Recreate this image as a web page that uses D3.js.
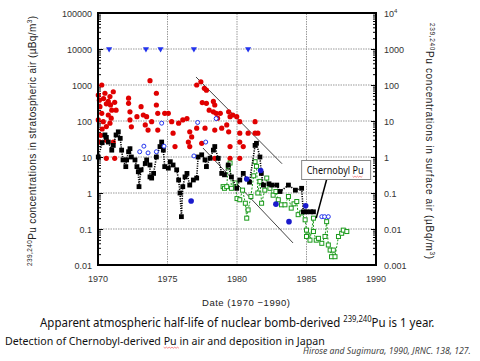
<!DOCTYPE html>
<html>
<head>
<meta charset="utf-8">
<title>Pu concentrations</title>
<script src="https://d3js.org/d3.v7.min.js"></script>
<style>
body { margin: 0; background: #fff; }
</style>
</head>
<body>
<script>
// stratospheric air (red dots)  [year, uBq/m3]
var strato = [
  [1970.27,1000],[1970.02,525],[1970.5,590],[1970.86,480],[1971.1,650],[1970.74,350],[1970.14,250],
  [1970.99,200],[1970.27,163],[1970.74,147],[1971.3,200],[1970.38,96],[1970.86,87],[1970.02,107],
  [1970.14,26],[1970.6,29],[1971.1,26],[1970.6,9.2],[1971.2,9.2],[1970.4,420],[1970.6,300],[1970.1,380],
  [1970.9,280],[1971.2,330],[1970.3,60],[1970.6,70],[1970.95,120],[1970.2,40],
  [1972.2,430],[1972.2,310],[1972.3,180],[1972.3,107],[1972.4,69],[1972.8,132],[1973.1,250],
  [1973.26,147],[1973.5,132],[1973.4,78],[1973.6,56],[1973.86,96],[1974.2,590],[1974.2,278],
  [1974.3,163],[1974.3,56],[1974.8,163],[1973.74,1320],
  [1977.1,1000],[1977.4,1230],[1977.65,810],[1977.8,720],[1977.5,325],[1977.8,310],[1978.3,350],
  [1978.4,278],[1978.3,180],[1978.5,163],[1978.8,163],[1979.4,180],[1979.5,132],[1979.7,147],
  [1979.98,132],[1975.06,163],[1975.3,96],[1975.8,87],[1976.1,107],[1976.4,117],[1975.4,46],
  [1976.6,50],[1976.5,26],[1976.74,36],[1977.1,63],[1977.7,63],[1978.4,56],[1978.9,63],
  [1979.26,78],[1979.4,50],[1979.5,19.5],[1975.54,19.5],[1976.6,19.5],[1977.46,24],[1978.4,9.2],
  [1979.5,9.2],[1978.0,200],[1978.6,120],
  [1980.2,96],[1980.8,46],[1981.3,46],[1981.5,46],[1981.3,96],[1980.2,46],[1980.2,26],
  [1980.2,9.2],[1980.45,19.5]
];

// surface air (black squares, dotted)
var surface = [
  [1970.02,10],[1970.3,25],[1970.5,41],[1970.6,35],[1970.74,26],[1970.99,15.5],[1971.1,21],
  [1971.3,41],[1971.46,50],[1971.6,33],[1971.7,15.5],[1971.8,8.3],[1972.0,5.4],[1972.06,8.3],
  [1972.2,14],[1972.3,17],[1972.4,10],[1972.66,8.3],[1972.8,5.4],[1972.9,3.9],[1972.95,1.5],
  [1973.1,4.4],[1973.4,6.6],[1973.5,8.3],[1973.74,6],[1973.74,2.8],[1973.86,2.6],[1974.0,3.5],
  [1974.2,10],[1974.46,19.5],[1974.58,26],[1974.7,15.5],[1974.8,5.4],[1975.06,4.9],[1975.2,7.4],
  [1975.4,6],[1975.66,4.4],[1975.8,2.3],[1975.9,1],[1976.0,0.22],[1976.1,1.5],[1976.26,2.8],
  [1976.4,3.5],[1976.6,1.66],[1976.86,2.3],[1977.1,2.6],[1977.2,10],[1977.46,11.5],[1977.7,8.3],
  [1977.8,5.4],[1978.06,9.2],[1978.3,15.5],[1978.4,19.5],[1978.65,9.2],[1978.9,3.5],[1979.1,3.2],
  [1979.37,6],[1979.6,2.8],[1979.98,1.35],[1980.2,2.3],[1980.45,3.5],[1980.9,2],[1981.3,21],
  [1981.4,24],[1981.65,10],[1981.75,3.5],[1981.9,1.66],[1982.3,1.8],[1982.5,1.66],[1982.86,1.66],
  [1983.1,1.1],[1983.7,1.66],[1984.2,1.2],[1984.65,1.35],[1984.77,0.3],[1985.0,0.3],[1985.3,0.3],
  [1985.5,0.3]
];

// Chernobyl-period surface samples (green open squares, dashed)
var green = [
  [1979.0,1.5],[1979.1,1.35],[1979.26,1.5],[1979.37,5.4],[1979.5,6.8],[1979.6,1.35],[1979.86,1.9],
  [1980.0,0.7],[1980.2,0.65],[1980.4,1.2],[1980.6,0.52],[1980.7,0.2],[1980.8,0.34],[1981.0,0.8],
  [1981.2,3],[1981.3,7.4],[1981.4,5.5],[1981.5,1],[1981.65,2.1],[1981.77,0.52],[1982.0,1.2],
  [1982.14,2.6],[1982.37,1.35],[1982.6,0.87],[1982.8,1.1],[1982.97,0.65],[1983.2,0.47],
  [1983.45,0.47],[1983.7,0.8],[1983.9,0.38],[1984.1,0.5],[1984.3,0.58],[1984.4,0.25],
  [1984.65,0.28],[1984.9,0.18],[1985.0,0.093],[1985.1,0.068],[1985.0,0.062],[1985.25,0.049],
  [1985.5,0.2],[1985.5,0.085],[1985.7,0.049],[1985.86,0.055],[1986.1,0.04],[1986.33,0.062],
  [1986.45,0.16],[1986.57,0.036],[1986.7,0.026],[1986.8,0.017],[1986.93,0.026],[1987.05,0.017],
  [1987.3,0.062],[1987.53,0.076],[1987.65,0.093],[1987.9,0.085]
];

var blueOpen = [
  [1974.58,87],[1973.0,14],[1973.3,20],[1973.6,13],[1974.2,14],[1974.75,20],[1977.17,91],
  [1978.5,117],[1977.75,26],[1976.9,10.7],[1986.1,0.22],[1986.3,0.22],[1986.57,0.22]
];
var blueFilled = [[1980.7,2.45],[1981.7,4.2],[1982.8,0.49],[1983.74,0.16],[1984.94,0.44],[1976.7,0.6]];
var triangles = [[1970.8,10000],[1973.45,10000],[1974.5,10000],[1976.9,10000],[1980.8,10000]];

// half-life guide lines
var guide1 = [[1977.05,1670],[1983.24,6.5]];
var guide2 = [[1977.55,17.8],[1984.03,0.041]];

var xTicks = [1970,1975,1980,1985,1990];
var yLeftTicks = [0.01,0.1,1,10,100,1000,10000,100000];
var yRightTicks = [0.001,0.01,0.1,1,10,100,1000,10000];

var W = 480, H = 361;
var SANS = '"Liberation Sans", Arial, sans-serif';
var BODY = '"Noto Sans", sans-serif';
var svg = d3.select('body').append('svg').attr('width', W).attr('height', H)
  .attr('font-family', SANS);
svg.append('rect').attr('width', W).attr('height', H).attr('fill', '#fff');

var x = d3.scaleLinear().domain([1970,1990]).range([98,376]);
var y = d3.scaleLog().domain([0.01,100000]).range([265,13]);
var yR = d3.scaleLog().domain([0.001,10000]).range([265,13]);

// grid
var grid = svg.append('g').attr('stroke', '#999').attr('stroke-width', 1).attr('stroke-dasharray', '1.5,1');
grid.selectAll('.h').data(yLeftTicks.slice(1, -1)).enter().append('line')
  .attr('x1', x(1970)).attr('x2', x(1990)).attr('y1', d => y(d)).attr('y2', d => y(d));
grid.selectAll('.v').data(xTicks.slice(1, -1)).enter().append('line')
  .attr('y1', y(0.01)).attr('y2', y(100000)).attr('x1', d => x(d)).attr('x2', d => x(d));

// axes (inward ticks)
var fmtL = d => d >= 1 ? d3.format('d')(d) : String(d);
svg.append('g').attr('transform', 'translate(' + x(1970) + ',0)')
  .call(d3.axisLeft(y).tickValues(y.ticks()).tickFormat(''))
  .call(g => g.select('.domain').remove())
  .selectAll('line').attr('stroke', '#000').attr('x2', d => yLeftTicks.indexOf(d) >= 0 ? 5 : 3);
svg.append('g').attr('transform', 'translate(' + x(1990) + ',0)')
  .call(d3.axisRight(yR).tickValues(yR.ticks()).tickFormat(''))
  .call(g => g.select('.domain').remove())
  .selectAll('line').attr('stroke', '#000').attr('x2', d => yRightTicks.indexOf(d) >= 0 ? -5 : -3);

svg.append('g').selectAll('text').data(yLeftTicks).enter().append('text')
  .attr('x', 92).attr('y', d => y(d) + 3.5).attr('text-anchor', 'end')
  .attr('font-size', 9).attr('fill', '#333').text(fmtL);
svg.append('g').selectAll('text').data(yRightTicks).enter().append('text')
  .attr('x', 384).attr('y', d => yR(d) + 3.5).attr('font-size', 9).attr('fill', '#333')
  .each(function(d) {
    var t = d3.select(this);
    if (d === 10000) { t.text('10'); t.append('tspan').attr('dy', -4).attr('font-size', 6).text('4'); }
    else t.text(String(d));
  });
svg.append('g').selectAll('text').data(xTicks).enter().append('text')
  .attr('x', d => x(d)).attr('y', 282).attr('text-anchor', 'middle')
  .attr('font-size', 9).attr('fill', '#333').text(d => d);

// guide lines
var line = d3.line().x(d => x(d[0])).y(d => y(d[1]));
[guide1, guide2].forEach(function(g) {
  svg.append('path').attr('d', line(g)).attr('stroke', '#444').attr('stroke-width', 1).attr('fill', 'none');
});

// red stratospheric dots
svg.append('g').selectAll('circle').data(strato).enter().append('circle')
  .attr('cx', d => x(d[0])).attr('cy', d => y(d[1])).attr('r', 2.6).attr('fill', '#e00000');

// green series
svg.append('path').attr('d', line(green)).attr('fill', 'none')
  .attr('stroke', '#1a9a1a').attr('stroke-width', 1).attr('stroke-dasharray', '2,1.5');
svg.append('g').selectAll('rect').data(green).enter().append('rect')
  .attr('x', d => x(d[0]) - 2).attr('y', d => y(d[1]) - 2).attr('width', 4).attr('height', 4)
  .attr('fill', '#fff').attr('stroke', '#1a9a1a').attr('stroke-width', 1);

// black surface series
svg.append('path').attr('d', line(surface)).attr('fill', 'none')
  .attr('stroke', '#000').attr('stroke-width', 1.6).attr('stroke-dasharray', '1.2,1.2');
svg.append('g').selectAll('rect').data(surface).enter().append('rect')
  .attr('x', d => x(d[0]) - 2.4).attr('y', d => y(d[1]) - 2.4).attr('width', 4.8).attr('height', 4.8)
  .attr('fill', '#000');

// blue markers
svg.append('g').selectAll('circle').data(blueOpen).enter().append('circle')
  .attr('cx', d => x(d[0])).attr('cy', d => y(d[1])).attr('r', 2)
  .attr('fill', '#fff').attr('stroke', '#2233ee').attr('stroke-width', 1);
svg.append('g').selectAll('circle').data(blueFilled).enter().append('circle')
  .attr('cx', d => x(d[0])).attr('cy', d => y(d[1])).attr('r', 2.8)
  .attr('fill', '#1a1acc');
svg.append('g').selectAll('path').data(triangles).enter().append('path')
  .attr('d', d3.symbol(d3.symbolTriangle, 16))
  .attr('transform', d => 'translate(' + x(d[0]) + ',' + y(d[1]) + ') rotate(180)')
  .attr('fill', '#2233ee');

// frame
svg.append('rect').attr('x', x(1970)).attr('y', y(100000))
  .attr('width', x(1990) - x(1970)).attr('height', y(0.01) - y(100000))
  .attr('fill', 'none').attr('stroke', '#000').attr('stroke-width', 2);

// squeeze a text horizontally to a target width, with optional red squiggle under a word
function fitText(g, text, width, word) {
  var len = text.node().getComputedTextLength();
  g.attr('transform', g.attr('transform') + ' scale(' + (width / len) + ',1)');
  if (word) {
    var s = text.text().indexOf(word);
    var n = text.node();
    var x0 = n.getStartPositionOfChar(s).x, x1 = n.getEndPositionOfChar(s + word.length - 1).x;
    var pts = [];
    for (var xx = x0, k = 0; xx <= x1; xx += 1.5, k++) pts.push([xx, 2.2 + (k % 2 ? 1 : 0)]);
    g.append('path').attr('d', d3.line()(pts)).attr('fill', 'none')
      .attr('stroke', '#e33').attr('stroke-width', 0.6);
  }
}

// Chernobyl callout
var tip = [1985.7, 0.2];
var bx = x(1984.65), by = y(8);
svg.append('line').attr('x1', bx + 25).attr('y1', by + 19).attr('x2', x(tip[0])).attr('y2', y(tip[1]))
  .attr('stroke', '#000').attr('stroke-width', 1.5);
svg.append('rect').attr('x', bx).attr('y', by).attr('width', 69).attr('height', 19)
  .attr('fill', '#fff').attr('stroke', '#888').attr('stroke-width', 1);
var cg = svg.append('g').attr('transform', 'translate(' + (bx + 5) + ',' + (by + 13.5) + ')');
var ct = cg.append('text').attr('font-size', 11).attr('font-family', BODY).attr('fill', '#111')
  .text('Chernobyl Pu');
fitText(cg, ct, 57, 'Pu');

// axis titles
var lt = svg.append('text').attr('transform', 'translate(36,141) rotate(-90)')
  .attr('text-anchor', 'middle').attr('font-size', 10).attr('fill', '#222')
  .attr('textLength', 250).attr('lengthAdjust', 'spacing');
lt.append('tspan').attr('font-size', 6.5).attr('dy', -4).text('239,240');
lt.append('tspan').attr('dy', 4).text('Pu concentrations in stratospheric air  (µBq/m');
lt.append('tspan').attr('font-size', 6.5).attr('dy', -4).text('3');
lt.append('tspan').attr('dy', 4).text(')');

var rt = svg.append('text').attr('transform', 'translate(426,141) rotate(90)')
  .attr('text-anchor', 'middle').attr('font-size', 10).attr('fill', '#222')
  .attr('textLength', 236).attr('lengthAdjust', 'spacing');
rt.append('tspan').attr('font-size', 6.5).attr('dy', -4).text('239,240');
rt.append('tspan').attr('dy', 4).text('Pu concentrations in surface air  (µBq/m');
rt.append('tspan').attr('font-size', 6.5).attr('dy', -4).text('3');
rt.append('tspan').attr('dy', 4).text(')');

svg.append('text').attr('x', 246).attr('y', 306).attr('text-anchor', 'middle')
  .attr('font-size', 9.5).attr('fill', '#222').attr('textLength', 88).attr('lengthAdjust', 'spacing')
  .text('Date (1970 \u22121990)');

// captions
var g1 = svg.append('g').attr('transform', 'translate(40,327)');
var cap = g1.append('text').attr('font-size', 13.5).attr('font-family', BODY).attr('fill', '#111');
cap.append('tspan').text('Apparent atmospheric half-life of nuclear bomb-derived ');
cap.append('tspan').attr('font-size', 9).attr('dy', -5).text('239,240');
cap.append('tspan').attr('dy', 5).text('Pu is 1 year.');
fitText(g1, cap, 395);

var g2 = svg.append('g').attr('transform', 'translate(5,345)');
var cap2 = g2.append('text').attr('font-size', 11.5).attr('font-family', BODY).attr('fill', '#111')
  .text('Detection of Chernobyl-derived Pu in air and deposition in Japan');
fitText(g2, cap2, 320, 'Pu ');

var g3 = svg.append('g').attr('transform', 'translate(303,354)');
var cap3 = g3.append('text').attr('font-size', 9).attr('font-family', BODY)
  .attr('font-style', 'italic').attr('fill', '#444')
  .text('Hirose and Sugimura, 1990, JRNC. 138, 127.');
fitText(g3, cap3, 168);
</script>
</body>
</html>
